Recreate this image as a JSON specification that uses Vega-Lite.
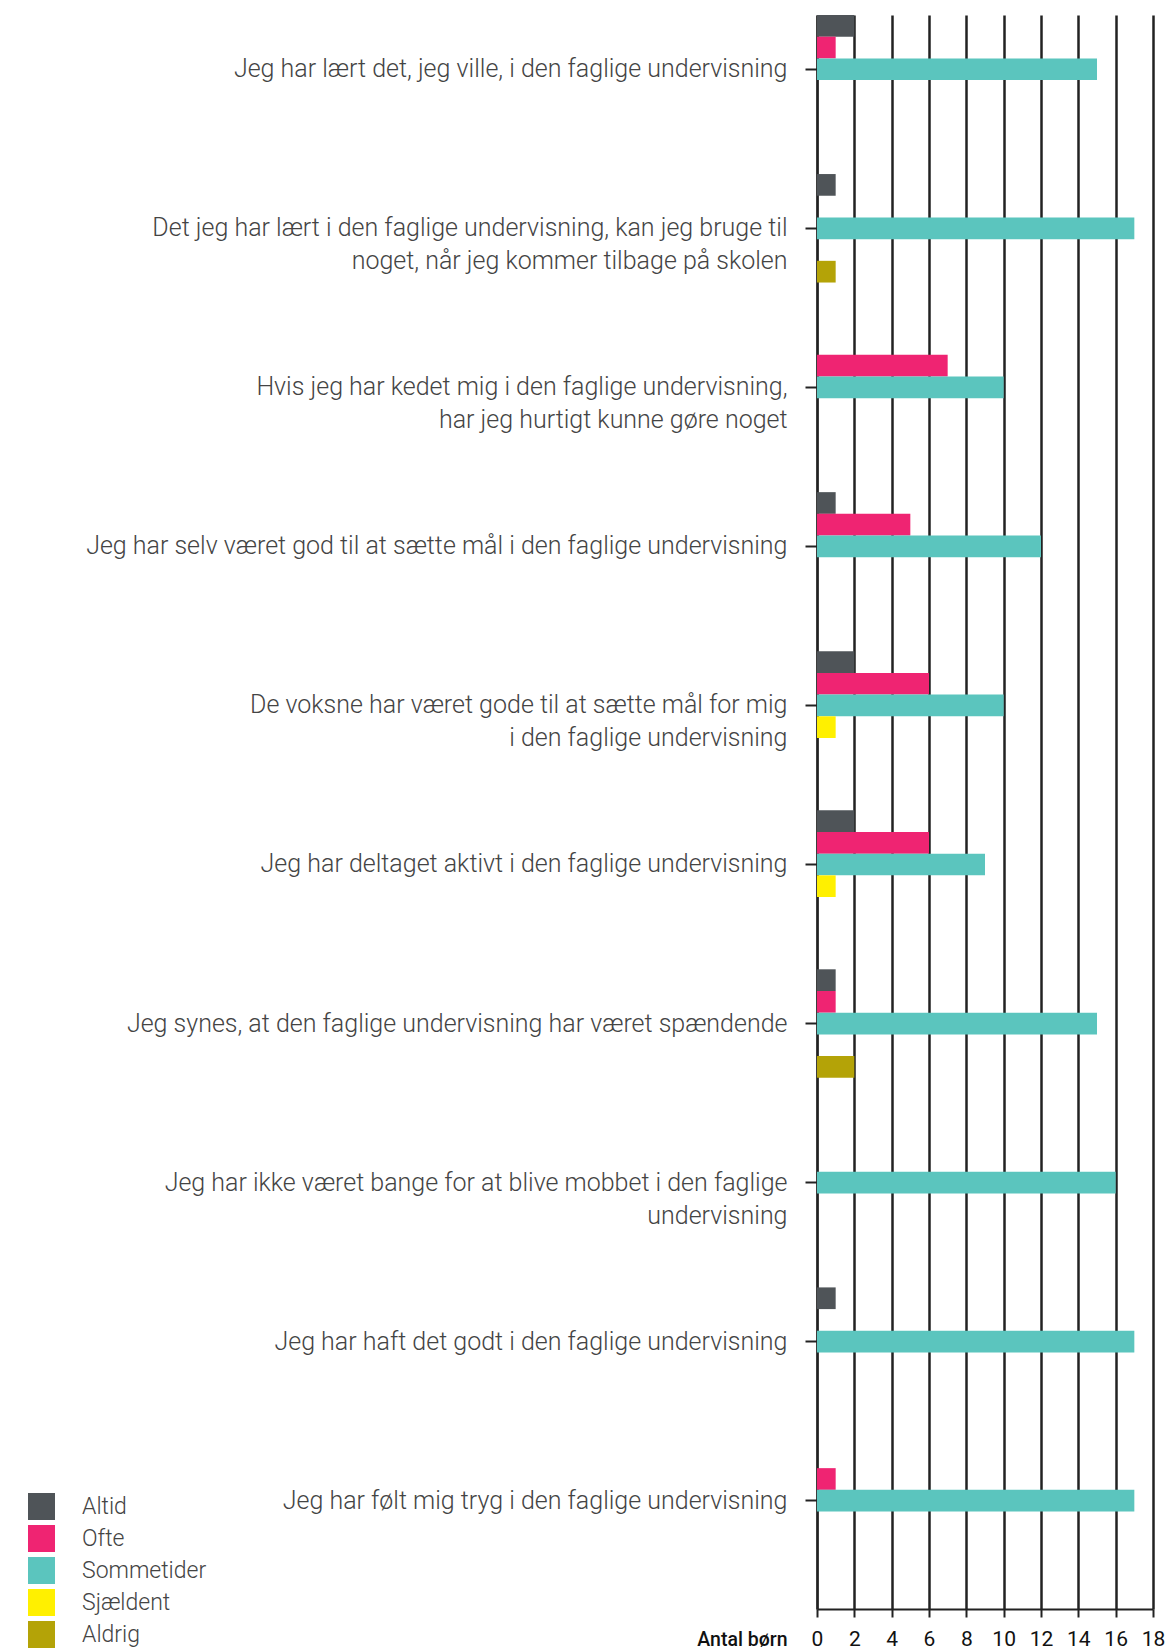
{
  "$schema": "https://vega.github.io/schema/vega-lite/v6.json",
  "autosize": {"type": "none"},
  "padding": {"left": 817, "top": 15, "right": 13, "bottom": 40},
  "width": 336,
  "height": 1594,
  "background": "white",
  "config": {"view": {"stroke": null}, "font": "Roboto"},
  "data": {"values": [
    {"q": "Jeg har lært det, jeg ville, i den faglige undervisning", "svar": "Altid", "antal": 2},
    {"q": "Jeg har lært det, jeg ville, i den faglige undervisning", "svar": "Ofte", "antal": 1},
    {"q": "Jeg har lært det, jeg ville, i den faglige undervisning", "svar": "Sommetider", "antal": 15},
    {"q": "Det jeg har lært i den faglige undervisning, kan jeg bruge til\nnoget, når jeg kommer tilbage på skolen", "svar": "Altid", "antal": 1},
    {"q": "Det jeg har lært i den faglige undervisning, kan jeg bruge til\nnoget, når jeg kommer tilbage på skolen", "svar": "Sommetider", "antal": 17},
    {"q": "Det jeg har lært i den faglige undervisning, kan jeg bruge til\nnoget, når jeg kommer tilbage på skolen", "svar": "Aldrig", "antal": 1},
    {"q": "Hvis jeg har kedet mig i den faglige undervisning,\nhar jeg hurtigt kunne gøre noget", "svar": "Ofte", "antal": 7},
    {"q": "Hvis jeg har kedet mig i den faglige undervisning,\nhar jeg hurtigt kunne gøre noget", "svar": "Sommetider", "antal": 10},
    {"q": "Jeg har selv været god til at sætte mål i den faglige undervisning", "svar": "Altid", "antal": 1},
    {"q": "Jeg har selv været god til at sætte mål i den faglige undervisning", "svar": "Ofte", "antal": 5},
    {"q": "Jeg har selv været god til at sætte mål i den faglige undervisning", "svar": "Sommetider", "antal": 12},
    {"q": "De voksne har været gode til at sætte mål for mig\ni den faglige undervisning", "svar": "Altid", "antal": 2},
    {"q": "De voksne har været gode til at sætte mål for mig\ni den faglige undervisning", "svar": "Ofte", "antal": 6},
    {"q": "De voksne har været gode til at sætte mål for mig\ni den faglige undervisning", "svar": "Sommetider", "antal": 10},
    {"q": "De voksne har været gode til at sætte mål for mig\ni den faglige undervisning", "svar": "Sjældent", "antal": 1},
    {"q": "Jeg har deltaget aktivt i den faglige undervisning", "svar": "Altid", "antal": 2},
    {"q": "Jeg har deltaget aktivt i den faglige undervisning", "svar": "Ofte", "antal": 6},
    {"q": "Jeg har deltaget aktivt i den faglige undervisning", "svar": "Sommetider", "antal": 9},
    {"q": "Jeg har deltaget aktivt i den faglige undervisning", "svar": "Sjældent", "antal": 1},
    {"q": "Jeg synes, at den faglige undervisning har været spændende", "svar": "Altid", "antal": 1},
    {"q": "Jeg synes, at den faglige undervisning har været spændende", "svar": "Ofte", "antal": 1},
    {"q": "Jeg synes, at den faglige undervisning har været spændende", "svar": "Sommetider", "antal": 15},
    {"q": "Jeg synes, at den faglige undervisning har været spændende", "svar": "Aldrig", "antal": 2},
    {"q": "Jeg har ikke været bange for at blive mobbet i den faglige\nundervisning", "svar": "Sommetider", "antal": 16},
    {"q": "Jeg har haft det godt i den faglige undervisning", "svar": "Altid", "antal": 1},
    {"q": "Jeg har haft det godt i den faglige undervisning", "svar": "Sommetider", "antal": 17},
    {"q": "Jeg har følt mig tryg i den faglige undervisning", "svar": "Ofte", "antal": 1},
    {"q": "Jeg har følt mig tryg i den faglige undervisning", "svar": "Sommetider", "antal": 17}
  ]},
  "mark": {"type": "bar"},
  "encoding": {
    "y": {
      "field": "q", "type": "nominal", "sort": null,
      "scale": {"paddingInner": 0.318, "paddingOuter": 0.17, "align": 0},
      "axis": {
        "title": null,
        "labelExpr": "split(datum.label, '\\n')",
        "labelFont": "Roboto", "labelFontWeight": 300, "labelFontSize": 25,
        "labelColor": "#444444", "labelLineHeight": 33, "labelLimit": 800,
        "labelPadding": 18, "labelAlign": "right", "labelBaseline": "middle",
        "tickSize": 12, "tickWidth": 2, "tickColor": "#222222",
        "domainColor": "#222222", "domainWidth": 2, "grid": false
      }
    },
    "yOffset": {
      "field": "svar", "type": "nominal",
      "scale": {"domain": ["Altid", "Ofte", "Sommetider", "Sjældent", "Aldrig"], "paddingInner": 0, "paddingOuter": 0}
    },
    "x": {
      "field": "antal", "type": "quantitative",
      "scale": {"domain": [0, 18], "nice": false},
      "axis": {
        "title": "Antal børn",
        "titleX": -30, "titleY": 36, "titleAlign": "right", "titleBaseline": "alphabetic",
        "titleFont": "Roboto", "titleFontWeight": 500, "titleFontSize": 19.5, "titleColor": "#111111",
        "values": [0, 2, 4, 6, 8, 10, 12, 14, 16, 18],
        "labelFont": "Roboto", "labelFontWeight": 400, "labelFontSize": 21, "labelColor": "#111111",
        "labelBaseline": "alphabetic", "labelPadding": 28, "labelFlush": false,
        "tickSize": 8, "tickWidth": 2, "tickColor": "#222222",
        "domainColor": "#222222", "domainWidth": 2,
        "grid": true, "gridColor": "#222222", "gridWidth": 2.5, "gridOpacity": 1
      }
    },
    "color": {
      "field": "svar", "type": "nominal",
      "scale": {
        "domain": ["Altid", "Ofte", "Sommetider", "Sjældent", "Aldrig"],
        "range": ["#4f5458", "#ef2472", "#5bc5be", "#fff000", "#b4a307"]
      },
      "legend": {
        "title": null, "orient": "none", "legendX": -789, "legendY": 1478,
        "direction": "vertical",
        "symbolType": "square", "symbolSize": 729, "symbolStrokeWidth": 0, "symbolOpacity": 1,
        "labelFont": "Roboto", "labelFontWeight": 300, "labelFontSize": 23, "labelColor": "#444444",
        "labelOffset": 27, "rowPadding": 5
      }
    }
  }
}
